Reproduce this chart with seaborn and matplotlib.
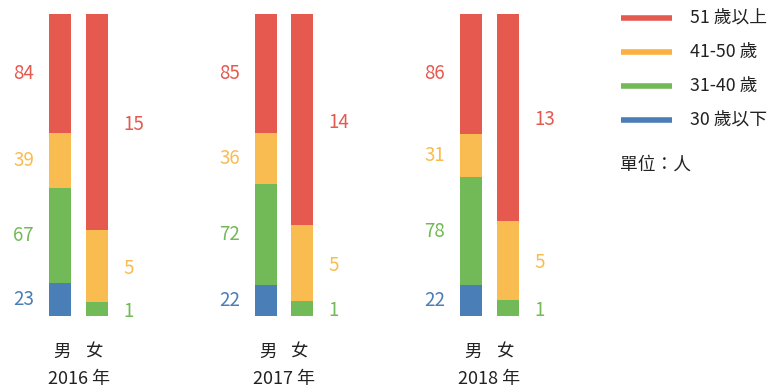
import numpy as np
import pandas as pd
import matplotlib
matplotlib.use("Agg")
import matplotlib.pyplot as plt
import seaborn as sns

# Staff headcount by age band, male / female, per year
years = ["2016 年", "2017 年", "2018 年"]
age_groups = ["30 歲以下", "31-40 歲", "41-50 歲", "51 歲以上"]
male_2016 = [23, 67, 39, 84]
female_2016 = [0, 1, 5, 15]
male_2017 = [22, 72, 36, 85]
female_2017 = [0, 1, 5, 14]
male_2018 = [22, 78, 31, 86]
female_2018 = [0, 1, 5, 13]
sex_labels = ["男", "女"]
unit_label = "單位：人"

colors = ["#4A7EB6", "#72B957", "#F9BC50", "#E5594F"]
legend_colors = ["#4A7EB6", "#72B957", "#FBB040", "#E5594F"]

sns.set_theme(style="white")
plt.rcParams["font.family"] = ["Noto Sans CJK TC", "DejaVu Sans"]

# bar centres in figure pixels
positions = {("2016 年", "男"): 60, ("2016 年", "女"): 97,
             ("2017 年", "男"): 266, ("2017 年", "女"): 302,
             ("2018 年", "男"): 471, ("2018 年", "女"): 508}

counts = {("2016 年", "男"): male_2016, ("2016 年", "女"): female_2016,
          ("2017 年", "男"): male_2017, ("2017 年", "女"): female_2017,
          ("2018 年", "男"): male_2018, ("2018 年", "女"): female_2018}

rows = []
for (yr, sex), vals in counts.items():
    vals = np.array(vals, dtype=float)
    pct = vals / vals.sum() * 100
    cum = np.cumsum(pct)
    for i, g in enumerate(age_groups):
        rows.append(dict(year=yr, sex=sex, pos=positions[(yr, sex)], group=g,
                         count=int(vals[i]), pct=pct[i], cum=cum[i]))
df = pd.DataFrame(rows)

W, H = 773, 390
fig = plt.figure(figsize=(W / 100, H / 100), dpi=100)
ax = fig.add_axes([0, 0, 1, 1])

bar_px = 22
min_gap = np.min(np.diff(sorted(df["pos"].unique())))
# stacked 100% bars: draw cumulative heights from the top band down
for g, c in reversed(list(zip(age_groups, colors))):
    sub = df[df["group"] == g]
    sns.barplot(data=sub, x="pos", y="cum", native_scale=True, color=c,
                width=bar_px / min_gap, errorbar=None, saturation=1,
                linewidth=0, ax=ax)

# bars span y=14..316 px for 0..100 %
top_px, bot_px = 14, 316
scale = (bot_px - top_px) / 100
ax.set_xlim(0, W)
ax.set_ylim(-(H - bot_px) / scale, 100 + top_px / scale)
ax.axis("off")

num_fs = 13.5
for _, r in df.iterrows():
    if r["count"] <= 0:
        continue
    yc = r["cum"] - r["pct"] / 2
    c = colors[age_groups.index(r["group"])]
    if r["sex"] == "男":
        ax.text(r["pos"] - 26, yc, str(r["count"]), ha="right", va="center",
                color=c, fontsize=num_fs)
    else:
        ax.text(r["pos"] + 26, yc - 0.8, str(r["count"]), ha="left",
                va="center", color=c, fontsize=num_fs)

def py(px):
    return (bot_px - px) / scale

for yr in years:
    xm = positions[(yr, "男")]
    xf = positions[(yr, "女")]
    ax.text(xm + 2, py(352), sex_labels[0], ha="center", va="center",
            fontsize=12.5, color="#222222")
    ax.text(xf - 2, py(352), sex_labels[1], ha="center", va="center",
            fontsize=12.5, color="#222222")
    ax.text((xm + xf) / 2, py(379), yr, ha="center", va="center",
            fontsize=13, color="#222222")

# legend drawn as line swatches
for i, (g, c) in enumerate(reversed(list(zip(age_groups, legend_colors)))):
    yy = py(18 + i * 34)
    ax.plot([621, 672], [yy, yy], color=c, lw=4, solid_capstyle="butt")
    ax.text(690, yy, g, ha="left", va="center", fontsize=12.8, color="#222222")
ax.text(620, py(165), unit_label, ha="left", va="center", fontsize=12.8,
        color="#222222")

fig.savefig("out.png", dpi=100)
